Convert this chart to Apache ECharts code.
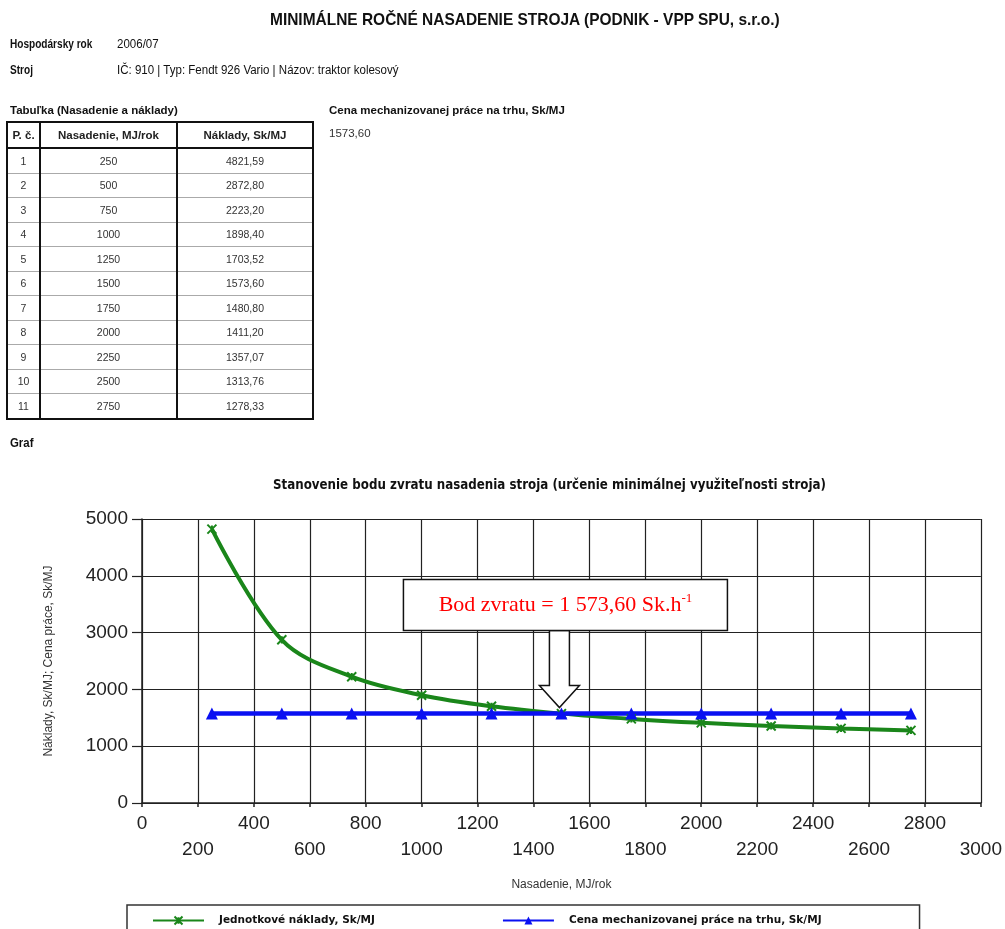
<!DOCTYPE html>
<html>
<head>
<meta charset="utf-8">
<script src="https://cdn.jsdelivr.net/npm/echarts@6/dist/echarts.min.js"></script>
<style>
  body { margin: 0; background: #fff; }
  #chart { position: absolute; left: 0; top: 0; width: 1005px; height: 929px; }
  .t {
    position: absolute;
    white-space: nowrap;
    color: #111;
    line-height: 16px;
    font-family: "Liberation Sans", Arial, sans-serif;
    font-size: 12px;
    transform: scaleX(0.96);
    transform-origin: left center;
  }
  .b { font-weight: bold; transform: scaleX(0.84); }
  .w { font-size: 11.5px; transform: none; }
  #tab {
    position: absolute;
    left: 6px;
    top: 121px;
    width: 308px;
    border-collapse: collapse;
    font-family: "Liberation Sans", Arial, sans-serif;
    font-size: 10.5px;
    color: #333;
  }
  #tab td, #tab th {
    text-align: center;
    padding: 0;
    height: 23.5px;
    border-left: 2px solid #111;
    border-right: 2px solid #111;
    border-bottom: 1px solid #aaa;
  }
  #tab th { height: 24px; font-size: 11.5px; color: #222; border-bottom: 2px solid #111; border-top: 2px solid #111; }
  #tab tr:last-child td { border-bottom: 2px solid #111; }
</style>
</head>
<body>
<div id="chart"></div>

<div class="t b" style="left:270px; top:11px; font-size:17px; line-height:18px; transform:scaleX(0.91);">MINIMÁLNE ROČNÉ NASADENIE STROJA (PODNIK - VPP SPU, s.r.o.)</div>
<div class="t b" style="left:10px; top:36px;">Hospodársky rok</div>
<div class="t" style="left:117px; top:36px;">2006/07</div>
<div class="t b" style="left:10px; top:62px;">Stroj</div>
<div class="t" style="left:117px; top:62px;">IČ: 910 | Typ: Fendt 926 Vario | Názov: traktor kolesový</div>

<div class="t b w" style="left:10px; top:102px;">Tabuľka (Nasadenie a náklady)</div>
<div class="t b w" style="left:329px; top:102px;">Cena mechanizovanej práce na trhu, Sk/MJ</div>
<div class="t w" id="cena" style="left:329px; top:125px; color:#333;"></div>
<table id="tab"></table>

<div class="t b" style="left:10px; top:435px; font-size:12px; transform:scaleX(0.95);">Graf</div>

<script>
// údaje z tabuľky
const poradie = [1, 2, 3, 4, 5, 6, 7, 8, 9, 10, 11];
const nasadenie = [250, 500, 750, 1000, 1250, 1500, 1750, 2000, 2250, 2500, 2750];
const naklady = [4821.59, 2872.80, 2223.20, 1898.40, 1703.52, 1573.60, 1480.80, 1411.20, 1357.07, 1313.76, 1278.33];
const cenaTrh = [1573.60, 1573.60, 1573.60, 1573.60, 1573.60, 1573.60, 1573.60, 1573.60, 1573.60, 1573.60, 1573.60];
const cena = 1573.60;
const bodZvratu = [1500, 1573.60];

const fmt = (v) => v.toFixed(2).replace('.', ',');

// tabuľka
let html = '<tr><th>P. č.</th><th>Nasadenie, MJ/rok</th><th>Náklady, Sk/MJ</th></tr>';
poradie.forEach((p, i) => {
  html += '<tr><td style="width:31px">' + p + '</td><td style="width:135px">' + nasadenie[i] +
    '</td><td>' + fmt(naklady[i]) + '</td></tr>';
});
document.getElementById('tab').innerHTML = html;
document.getElementById('cena').textContent = fmt(cena);

// graf
const chart = echarts.init(document.getElementById('chart'));
const gridColor = '#222';
chart.setOption({
  animation: false,
  title: {
    text: 'Stanovenie bodu zvratu nasadenia stroja (určenie minimálnej využiteľnosti stroja)',
    left: 268,
    top: 474,
    textStyle: {
      fontFamily: '"DejaVu Sans Condensed", sans-serif',
      fontSize: 13.2,
      fontWeight: 'bold',
      color: '#111',
    },
  },
  grid: { left: 142, top: 519, right: 21, bottom: 126 },
  xAxis: {
    type: 'value',
    min: 0,
    max: 3000,
    interval: 200,
    name: 'Nasadenie, MJ/rok',
    nameLocation: 'middle',
    nameGap: 76,
    nameTextStyle: { fontFamily: 'Liberation Sans', fontSize: 12, color: '#333' },
    axisLine: { lineStyle: { color: gridColor, width: 1.5 } },
    axisTick: { length: 4, lineStyle: { color: gridColor, width: 1.5 } },
    splitLine: { show: true, lineStyle: { color: gridColor, width: 1.2 } },
    axisLabel: {
      fontFamily: 'Liberation Sans',
      fontSize: 19,
      color: '#222',
      margin: 8,
      lineHeight: 26,
      formatter: (v, i) => (i % 2 ? '\n' + v : '' + v),
    },
  },
  yAxis: {
    type: 'value',
    min: 0,
    max: 5000,
    interval: 1000,
    name: 'Náklady, Sk/MJ; Cena práce, Sk/MJ',
    nameLocation: 'middle',
    nameGap: 87,
    nameTextStyle: { fontFamily: 'Liberation Sans', fontSize: 12, color: '#333' },
    axisLine: { show: true, lineStyle: { color: gridColor, width: 1.5 } },
    axisTick: { show: true, length: 10, lineStyle: { color: gridColor, width: 1.2 } },
    splitLine: { show: true, lineStyle: { color: gridColor, width: 1.2 } },
    axisLabel: {
      fontFamily: 'Liberation Sans',
      fontSize: 19,
      color: '#222',
      margin: 14,
      formatter: (v) => '' + v,
    },
  },
  legend: {
    left: 127,
    top: 905,
    padding: [10, 98, 12, 25],
    itemGap: 127,
    itemWidth: 51,
    itemHeight: 10,
    borderColor: '#333',
    borderWidth: 1.5,
    textStyle: {
      fontFamily: 'DejaVu Sans',
      fontWeight: 'bold',
      fontSize: 10.5,
      color: '#111',
      padding: [0, 0, 0, 10],
    },
  },
  series: [
    {
      name: 'Jednotkové náklady, Sk/MJ',
      type: 'line',
      smooth: 0.35,
      data: nasadenie.map((x, i) => [x, naklady[i]]),
      symbol: 'path://M0,0L10,10M10,0L0,10M5,1L5,9',
      symbolSize: 9,
      lineStyle: { color: '#1a861a', width: 4 },
      itemStyle: { color: '#1a861a', borderColor: '#1a861a', borderWidth: 2 },
    },
    {
      name: 'Cena mechanizovanej práce na trhu, Sk/MJ',
      type: 'line',
      data: nasadenie.map((x, i) => [x, cenaTrh[i]]),
      symbol: 'triangle',
      symbolSize: 12,
      lineStyle: { color: '#0a10f2', width: 4.5 },
      itemStyle: { color: '#0a10f2' },
    },
  ],
});

// popis bodu zvratu so šípkou
const p = chart.convertToPixel({ gridIndex: 0 }, bodZvratu);
const tx = p[0] - 2;
const ty = p[1] - 6;
const boxBottom = ty - 77;
chart.setOption({
  graphic: [
    {
      type: 'polygon',
      z: 100,
      shape: {
        points: [
          [tx - 10, boxBottom], [tx + 10, boxBottom], [tx + 10, ty - 22], [tx + 20, ty - 22],
          [tx, ty], [tx - 20, ty - 22], [tx - 10, ty - 22],
        ],
      },
      style: { fill: '#fff', stroke: '#111', lineWidth: 1.5 },
    },
    {
      type: 'rect',
      z: 101,
      shape: { x: tx - 156, y: boxBottom - 51, width: 324, height: 51 },
      style: { fill: '#fff', stroke: '#111', lineWidth: 1.5 },
    },
    {
      type: 'text',
      z: 102,
      x: tx + 6,
      y: boxBottom - 25,
      style: {
        text: '{a|Bod zvratu = 1 573,60 Sk.h}{s|-1}',
        align: 'center',
        verticalAlign: 'middle',
        rich: {
          a: { fontFamily: 'Liberation Serif', fontSize: 22, fill: '#f00', lineHeight: 28 },
          s: { fontFamily: 'Liberation Serif', fontSize: 13, fill: '#f00', verticalAlign: 'top', lineHeight: 28 },
        },
      },
    },
  ],
});
</script>
</body>
</html>
